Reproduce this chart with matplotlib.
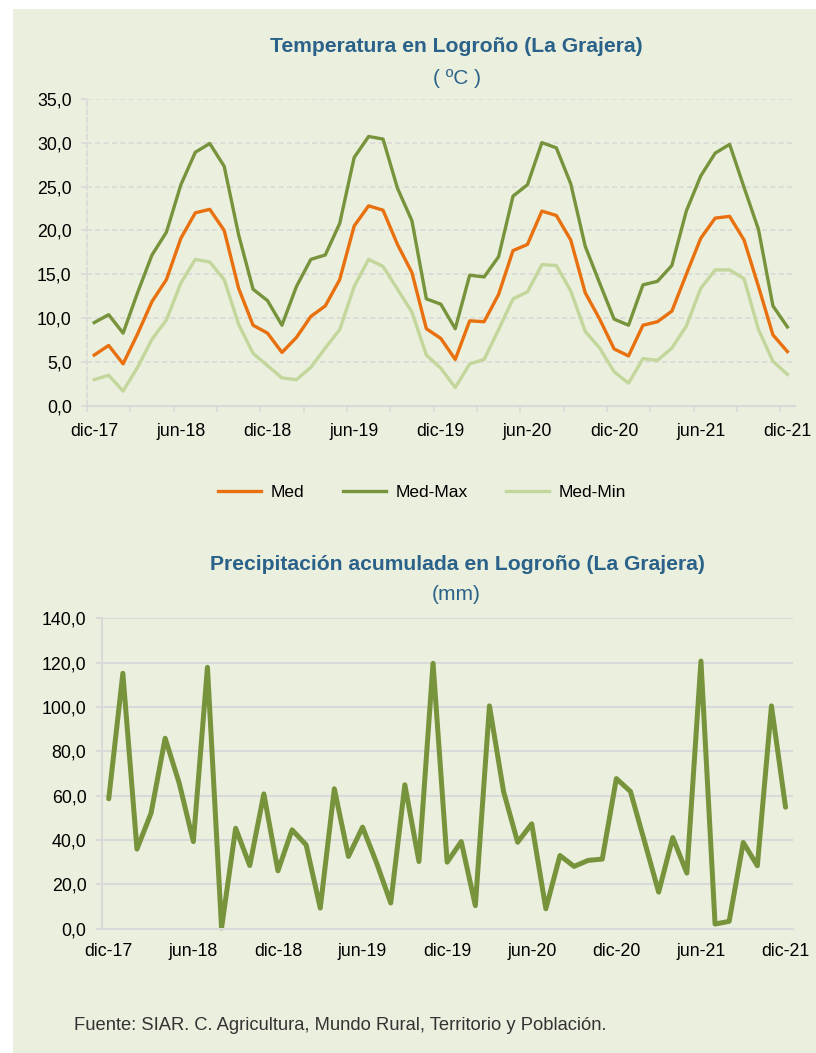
import matplotlib
matplotlib.use('Agg')
import matplotlib.pyplot as plt
from matplotlib.patches import Rectangle
from matplotlib.ticker import FixedLocator, FuncFormatter
import numpy as np

# monthly data dic-17 .. dic-21 (49 months)
tick_labels = ['dic-17', 'jun-18', 'dic-18', 'jun-19', 'dic-19',
               'jun-20', 'dic-20', 'jun-21', 'dic-21']

temp_med = [5.8, 6.9, 4.8, 8.2, 11.9, 14.4, 19.1, 22.0, 22.4, 20.0,
            13.4, 9.2, 8.3, 6.1, 7.8, 10.2, 11.4, 14.4, 20.5, 22.8,
            22.3, 18.4, 15.2, 8.8, 7.7, 5.3, 9.7, 9.6, 12.7, 17.7,
            18.4, 22.2, 21.7, 18.9, 12.9, 9.9, 6.5, 5.7, 9.2, 9.6,
            10.8, 15.0, 19.1, 21.4, 21.6, 18.9, 13.6, 8.1, 6.2]
temp_max = [9.5, 10.4, 8.3, 12.9, 17.2, 19.8, 25.2, 28.9, 29.9, 27.3,
            19.5, 13.3, 12.0, 9.2, 13.6, 16.7, 17.2, 20.8, 28.3, 30.7,
            30.4, 24.8, 21.1, 12.2, 11.6, 8.8, 14.9, 14.7, 17.0, 23.9,
            25.2, 30.0, 29.4, 25.3, 18.2, 14.0, 9.9, 9.2, 13.8, 14.2,
            16.0, 22.2, 26.2, 28.8, 29.8, 24.9, 20.1, 11.4, 9.0]
temp_min = [3.0, 3.5, 1.7, 4.4, 7.6, 9.8, 14.0, 16.7, 16.4, 14.4,
            9.3, 6.0, 4.6, 3.2, 3.0, 4.4, 6.6, 8.7, 13.6, 16.7,
            15.9, 13.3, 10.7, 5.8, 4.3, 2.1, 4.8, 5.3, 8.7, 12.2,
            13.0, 16.1, 16.0, 13.1, 8.5, 6.6, 3.9, 2.6, 5.4, 5.2,
            6.6, 9.1, 13.4, 15.5, 15.5, 14.5, 8.7, 5.1, 3.6]
precip = [58.6, 115.2, 35.9, 52.1, 85.9, 65.6, 39.3, 117.9, 0.3, 45.3,
          28.5, 60.8, 26.1, 44.6, 37.8, 9.3, 63.1, 32.6, 45.8, 29.6,
          11.6, 64.9, 30.3, 119.7, 30.0, 39.3, 10.4, 100.5, 61.9, 39.0,
          47.3, 9.0, 33.0, 28.1, 30.8, 31.4, 67.7, 61.9, 39.3, 16.5,
          41.1, 25.1, 120.7, 2.1, 3.3, 38.9, 28.4, 100.5, 54.8]

BG = '#ebefdd'
BLUE = '#2b6289'
ORANGE = '#e8700f'
DGREEN = '#77933c'
LGREEN = '#c3d69b'
GRID = '#d9d9d9'
FONT = 'Liberation Sans'

plt.rcParams['font.family'] = FONT
W, H = 816, 1053
fig = plt.figure(figsize=(W / 100, H / 100), dpi=100, facecolor='white')
fig.patches.append(Rectangle((13 / W, 0), 1 - 13 / W, 1 - 9 / H,
                             transform=fig.transFigure, facecolor=BG,
                             edgecolor='none', zorder=-10))

x = np.arange(len(temp_med))
comma = FuncFormatter(lambda v, p: f'{v:.1f}'.replace('.', ','))


def fx(px):
    return px / W


def fy(py):
    return 1 - py / H


# 1. Temperature
ax1 = fig.add_axes([fx(87), fy(406), fx(794.6 - 87), (406 - 98.7) / H])
ax1.set_facecolor('none')
ax1.set_zorder(2)
l1, = ax1.plot(x, temp_med, color=ORANGE, lw=2.4, solid_joinstyle='round')
l2, = ax1.plot(x, temp_max, color=DGREEN, lw=2.4, solid_joinstyle='round')
l3, = ax1.plot(x, temp_min, color=LGREEN, lw=2.4, solid_joinstyle='round')
ax1.set_xlim(-0.5, 48.5)
ax1.set_ylim(0, 35)
ax1.set_yticks(np.arange(0, 36, 5))
ax1.yaxis.set_major_formatter(comma)
ax1.set_xticks(np.arange(0, 49, 6))
ax1.set_xticklabels(tick_labels)
ax1.xaxis.set_minor_locator(FixedLocator(np.arange(-0.5, 48, 3)))
ax1.tick_params(axis='x', which='major', length=0, pad=12.5, labelsize=12.8)
ax1.tick_params(axis='x', which='minor', length=4, width=1.2, color=GRID)
ax1.tick_params(axis='y', length=4, width=1.2, color=GRID, pad=7,
                labelsize=12.8)
ax1.grid(axis='y', color=GRID, lw=1.2, ls=(0, (3, 2)))
ax1.set_axisbelow(True)
for s in ['top', 'right']:
    ax1.spines[s].set_visible(False)
ax1.spines['bottom'].set_color(GRID)
ax1.spines['bottom'].set_linewidth(1.5)
ax1.spines['left'].set_color(GRID)
ax1.spines['left'].set_linewidth(1.2)
ax1.spines['left'].set_linestyle((0, (3, 2)))

fig.text(fx(456), fy(46.5), 'Temperatura en Logroño (La Grajera)', ha='center',
         va='center', fontsize=15.2, fontweight='bold', color=BLUE)
fig.text(fx(457), fy(78.5), '( ºC )', ha='center', va='center', fontsize=15,
         color=BLUE)

fig.legend([l1, l2, l3], ['Med', 'Med-Max', 'Med-Min'], loc='center',
           bbox_to_anchor=(fx(422), fy(492)), ncol=3, frameon=False,
           fontsize=12.5, handlelength=2.5, handletextpad=0.55,
           columnspacing=2.2)

# 2. Precipitation
ax2 = fig.add_axes([fx(101.7), fy(928.7), fx(792.6 - 101.7), (928.7 - 618.3) / H])
ax2.set_facecolor('none')
ax2.set_zorder(2)
ax2.plot(x, precip, color=DGREEN, lw=3.6, solid_joinstyle='round',
         solid_capstyle='round', clip_on=False)
ax2.set_xlim(-0.5, 48.5)
ax2.set_ylim(0, 140)
ax2.set_yticks(np.arange(0, 141, 20))
ax2.yaxis.set_major_formatter(comma)
ax2.set_xticks(np.arange(0, 49, 6))
ax2.set_xticklabels(tick_labels)
ax2.tick_params(axis='x', length=0, pad=10.5, labelsize=12.8)
ax2.tick_params(axis='y', length=4, width=1.5, color=GRID, pad=7,
                labelsize=12.8)
ax2.grid(axis='y', color=GRID, lw=1.5)
ax2.set_axisbelow(True)
for s in ['top', 'right']:
    ax2.spines[s].set_visible(False)
for s in ['bottom', 'left']:
    ax2.spines[s].set_color(GRID)
    ax2.spines[s].set_linewidth(1.5)

fig.text(fx(457), fy(564.5), 'Precipitación acumulada en Logroño (La Grajera)',
         ha='center', va='center', fontsize=15.2, fontweight='bold', color=BLUE)
fig.text(fx(456), fy(594.5), '(mm)', ha='center', va='center', fontsize=15,
         color=BLUE)

fig.text(fx(74), fy(1025.5), 'Fuente: SIAR. C. Agricultura, Mundo Rural, '
         'Territorio y Población.', ha='left', va='center', fontsize=13.2,
         color='#333333')

fig.savefig('out.png', dpi=100, facecolor='white')
plt.close(fig)
